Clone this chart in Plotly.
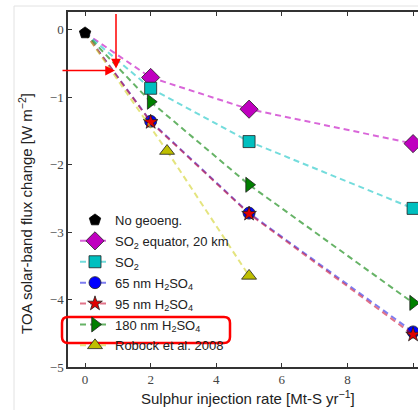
import plotly.graph_objects as go

# ---- data ----
x_inj = [2, 5, 10]
no_geo_x = [0]
no_geo_y = [-0.05]
so2_eq = [-0.71, -1.18, -1.69]
so2 = [-0.87, -1.66, -2.65]
h2so4_65 = [-1.36, -2.72, -4.48]
h2so4_95 = [-1.37, -2.73, -4.52]
h2so4_180 = [-1.07, -2.30, -4.05]
robock_x = [2.5, 5]
robock_y = [-1.80, -3.65]

x_ticks = [0, 2, 4, 6, 8, 10]
y_ticks = [0, -1, -2, -3, -4, -5]

W, H = 418, 410
L, R, T, B = 68, 0, 12, 43
PW, PH = W - L - R, H - T - B


def px(x):
    return (x - L) / PW


def py(y):
    return (H - B - y) / PH


series = [
    ("SO<sub>2</sub> equator, 20 km", x_inj, so2_eq, "diamond", 14, "#bf00bf", "rgba(191,0,191,0.6)"),
    ("SO<sub>2</sub>", x_inj, so2, "square", 12, "#00bfbf", "rgba(0,191,191,0.55)"),
    ("65 nm H<sub>2</sub>SO<sub>4</sub>", x_inj, h2so4_65, "circle", 12, "#0000ff", "rgba(40,40,230,0.6)"),
    ("95 nm H<sub>2</sub>SO<sub>4</sub>", x_inj, h2so4_95, "star", 11, "#e00000", "rgba(200,0,40,0.55)"),
    ("180 nm H<sub>2</sub>SO<sub>4</sub>", x_inj, h2so4_180, "triangle-right", 13, "#008000", "rgba(0,128,0,0.6)"),
    ("Robock et al. 2008", robock_x, robock_y, "triangle-up", 13, "#bfbf00", "rgba(210,210,40,0.6)"),
]

fig = go.Figure()

for i, (name, xs, ys, sym, size, fc, lc) in enumerate(series):
    # segment from the no-geoengineering point to the first point
    fig.add_trace(go.Scatter(
        x=[no_geo_x[0], xs[0]], y=[no_geo_y[0], ys[0]], mode="lines",
        line=dict(color=lc, width=2, dash="6px,4px"), showlegend=False,
        hoverinfo="skip"))
    fig.add_trace(go.Scatter(
        x=xs, y=ys, mode="lines+markers", name=name,
        line=dict(color=lc, width=2, dash="6px,4px"),
        marker=dict(symbol=sym, size=size, color=fc,
                    line=dict(color="#202020", width=0.8)),
        legendgroup=f"g{i}", legendrank=i + 2))

fig.add_trace(go.Scatter(
    x=no_geo_x, y=no_geo_y, mode="markers", name="No geoeng.",
    marker=dict(symbol="pentagon", size=12, color="black",
                line=dict(color="black", width=0.8)),
    legendgroup="g_ng", legendrank=1))

axis_common = dict(
    showline=True, linecolor="#333333", linewidth=1.5,
    ticks="inside", ticklen=4, tickcolor="#333333", tickwidth=1,
    showgrid=False, zeroline=False,
    tickfont=dict(family="Liberation Serif", size=13, color="#444444"),
)

fig.update_xaxes(range=[-0.52, 10.15], tickvals=x_ticks, mirror="ticks", **axis_common)
fig.update_yaxes(range=[-5.0, 0.26], tickvals=y_ticks, mirror=False, **axis_common)

annotations = [
    dict(text="Sulphur injection rate [Mt-S yr<sup>−1</sup>]", xref="paper", yref="paper",
         x=px(248), y=py(398), xanchor="center", yanchor="middle", showarrow=False,
         font=dict(family="Liberation Sans", size=15, color="#222222")),
    dict(text="TOA solar-band flux change [W m<sup>−2</sup>]", xref="paper", yref="paper",
         x=px(25), y=py(214), xanchor="center", yanchor="middle", showarrow=False,
         textangle=-90, font=dict(family="Liberation Sans", size=15, color="#222222")),
    # red arrows
    dict(text="", xref="paper", yref="paper", x=px(116), y=py(68.5), ax=0, ay=-56,
         showarrow=True, arrowhead=2, arrowsize=1.3, arrowwidth=1.5, arrowcolor="#ff0000"),
    dict(text="", xref="paper", yref="paper", x=px(115), y=py(70.5), ax=-54, ay=0,
         showarrow=True, arrowhead=2, arrowsize=1.3, arrowwidth=1.5, arrowcolor="#ff0000"),
]

# rounded red rectangle around the 180 nm legend entry
x0, x1, y0, y1, r = 62, 230, 317, 343, 6


def P(x, y):
    return f"{px(x):.5f},{py(y):.5f}"


path = (f"M {P(x0 + r, y0)} L {P(x1 - r, y0)} Q {P(x1, y0)} {P(x1, y0 + r)} "
        f"L {P(x1, y1 - r)} Q {P(x1, y1)} {P(x1 - r, y1)} "
        f"L {P(x0 + r, y1)} Q {P(x0, y1)} {P(x0, y1 - r)} "
        f"L {P(x0, y0 + r)} Q {P(x0, y0)} {P(x0 + r, y0)} Z")

shapes = [
    dict(type="path", xref="paper", yref="paper", path=path,
         line=dict(color="#ff0000", width=2.5), layer="above"),
    # faint frame of the screenshot
    dict(type="line", xref="paper", yref="paper", x0=px(14), x1=px(14), y0=py(6), y1=py(410),
         line=dict(color="#e2e2e2", width=1)),
    dict(type="line", xref="paper", yref="paper", x0=px(14), x1=px(418), y0=py(6), y1=py(6),
         line=dict(color="#e2e2e2", width=1)),
]

fig.update_layout(
    width=W, height=H,
    margin=dict(l=L, r=R, t=T, b=B),
    paper_bgcolor="white", plot_bgcolor="white",
    showlegend=True,
    legend=dict(x=px(75), y=py(205), xanchor="left", yanchor="top",
                bgcolor="rgba(0,0,0,0)", borderwidth=0, tracegroupgap=1,
                font=dict(family="Liberation Sans", size=13, color="#222222")),
    annotations=annotations, shapes=shapes,
)

fig.write_html("out.html")
